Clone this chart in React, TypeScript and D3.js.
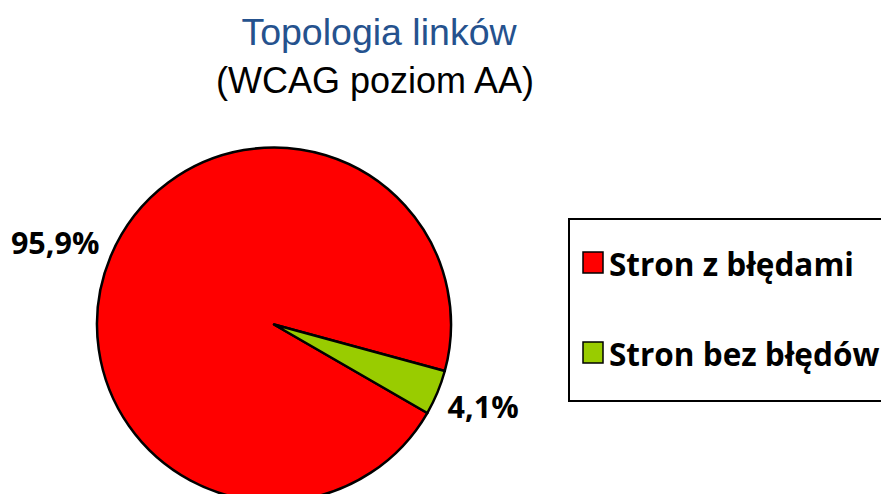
import React from 'react';
import * as d3 from 'd3';

const categories = ['Stron z błędami', 'Stron bez błędów'];
const values = [95.9, 4.1];
const valueLabels = ['95,9%', '4,1%'];
const colors = ['#FF0000', '#99CC00'];

const titleLine1 = 'Topologia linków';
const titleLine2 = '(WCAG poziom AA)';

const width = 881;
const height = 494;

export default function App() {
  // Pie geometry
  const cx = 274;
  const cy = 324.5;
  const radius = 177;
  const rotation = (120 * Math.PI) / 180;

  const pieGen = d3.pie<number>()
    .sort(null)
    .startAngle(rotation)
    .endAngle(rotation + 2 * Math.PI);
  const slices = pieGen(values);

  const arcGen = d3.arc<d3.PieArcDatum<number>>()
    .innerRadius(0)
    .outerRadius(radius);

  // labels sit just outside the pie, box corner touching this arc
  const labelArc = d3.arc<d3.PieArcDatum<number>>()
    .innerRadius(radius + 10)
    .outerRadius(radius + 10);

  const labelFont = '"Open Sans", Lato, sans-serif';
  const labelSize = 30.5;
  const capHeight = labelSize * 0.714;

  return (
    <svg
      width={width}
      height={height}
      style={{ position: 'absolute', left: 0, top: 0, display: 'block', background: '#fff' }}
    >
      {/* Title */}
      <text
        x={379}
        y={45}
        textAnchor="middle"
        fontFamily='"Liberation Sans", Arial, sans-serif'
        fontSize={37.5}
        fill="#25528E"
      >
        {titleLine1}
      </text>
      <text
        x={375}
        y={93}
        textAnchor="middle"
        fontFamily='"Liberation Sans", Arial, sans-serif'
        fontSize={36}
        fill="#000"
      >
        {titleLine2}
      </text>

      {/* Pie */}
      <g transform={`translate(${cx}, ${cy})`}>
        {slices.map((s, i) => (
          <path
            key={categories[i]}
            d={arcGen(s) || ''}
            fill={colors[i]}
            stroke="#000"
            strokeWidth={2.5}
            strokeLinejoin="round"
          />
        ))}
        {slices.map((s, i) => {
          const [px, py] = labelArc.centroid(s);
          const right = px > 0;
          return (
            <text
              key={'lbl' + i}
              x={right ? px + 1 : px - 2}
              y={py < 0 ? py + 1 : py + capHeight}
              textAnchor={right ? 'start' : 'end'}
              fontFamily={labelFont}
              fontWeight="bold"
              fontSize={labelSize}
              fill="#000"
            >
              {valueLabels[i]}
            </text>
          );
        })}
      </g>

      {/* Legend */}
      <rect x={569} y={219} width={330} height={182} fill="#fff" stroke="#000" strokeWidth={2} />
      {categories.map((c, i) => {
        const y = 252 + i * 90;
        return (
          <g key={'leg' + i}>
            <rect x={583} y={y} width={20} height={21} fill={colors[i]} stroke="#000" strokeWidth={1.5} />
            <text
              x={609}
              y={y + 24}
              fontFamily={labelFont}
              fontWeight="bold"
              fontSize={31.5}
              fill="#000"
            >
              {c}
            </text>
          </g>
        );
      })}
    </svg>
  );
}
